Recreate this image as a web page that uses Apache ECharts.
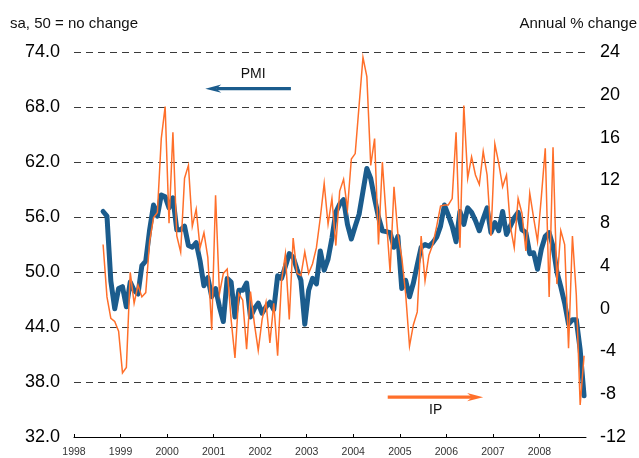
<!DOCTYPE html>
<html><head><meta charset="utf-8">
<script src="https://cdn.jsdelivr.net/npm/echarts@6/dist/echarts.min.js"></script>
<style>html,body{margin:0;padding:0;background:#fff}#c{width:639px;height:458px}</style>
</head><body><div id="c"></div>
<script>
// Monthly data, first month = Aug 1998, last = Dec 2008
const startYear = 1998;
const startMonth = 8;
const pmi = [
  56.6, 56.1, 49.0, 46.0, 48.2, 48.4, 46.2, 48.9, 48.0, 47.6,
  50.7, 51.2, 54.6, 57.3, 56.1, 58.4, 58.2, 57.0, 58.1, 54.6,
  54.6, 55.0, 52.9, 52.7, 53.2, 51.2, 48.5, 49.4, 47.3, 48.2,
  46.2, 44.6, 49.3, 48.9, 45.1, 48.0, 48.0, 48.8, 45.1, 46.0,
  46.6, 45.5, 46.2, 46.7, 45.9, 49.6, 49.3, 50.6, 52.0, 51.6,
  50.3, 49.1, 44.3, 48.0, 49.3, 48.7, 52.3, 50.2, 51.4, 53.7,
  56.5, 57.4, 57.9, 55.2, 53.6, 55.0, 56.3, 58.8, 61.3, 60.2,
  58.0, 56.0, 54.5, 54.4, 54.3, 52.7, 53.9, 48.2, 49.1, 47.3,
  48.8, 50.8, 52.7, 53.0, 52.8, 53.2, 53.8, 55.0, 57.3, 56.2,
  55.0, 53.3, 56.6, 55.2, 57.0, 56.5, 55.6, 54.5, 55.8, 57.0,
  54.3, 55.4, 54.5, 56.6, 54.1, 55.0, 55.9, 56.5, 54.6, 54.3,
  52.0, 52.1, 50.3, 52.5, 53.9, 54.3, 52.8, 50.0, 48.4, 46.6,
  44.3, 44.8, 44.8, 41.5, 36.5
];
const ip = [
  6.0, 1.1, -0.9, -1.2, -2.1, -6.0, -5.5, 3.4, 0.5, 2.2,
  1.1, 1.5, 6.3, 8.5, 9.0, 15.9, 18.9, 8.0, 16.5, 6.8,
  5.3, 12.2, 13.4, 7.7, 9.3, 5.7, 7.1, 4.8, -2.0, 10.6,
  1.4, 3.3, 3.7, -1.0, -4.6, 1.4, 0.8, -3.8, 1.6, -1.4,
  -3.9, -1.0, 0.6, -3.2, 0.5, -4.4, 2.6, 5.1, -1.0, 6.6,
  3.3, 3.1, 5.3, 3.3, 4.2, 5.7, 8.5, 11.7, 7.9, 10.3,
  5.9, 11.0, 12.1, 9.3, 14.0, 14.5, 19.0, 23.5, 21.7, 13.4,
  15.9, 6.0, 13.7, 8.5, 3.4, 11.4, 7.0, 4.8, 1.4, -3.5,
  -1.5, -0.3, 6.8, 2.6, 5.0, 6.0, 7.7, 9.6, 9.7, 9.7,
  10.3, 16.5, 5.7, 19.0, 12.2, 14.2, 12.5, 11.6, 14.7, 12.5,
  6.8, 15.4, 13.6, 11.4, 12.5, 7.7, 5.7, 10.3, 8.9, 5.4,
  10.8, 8.5, 6.3, 10.5, 15.0, 1.1, 15.1, 2.3, 7.3, 6.0,
  -3.7, 6.8, 1.3, -9.0, -4.4
];
const yearLabels = [1998, 1999, 2000, 2001, 2002, 2003, 2004, 2005, 2006, 2007, 2008];
const leftScale = { min: 32, max: 74, step: 6 };
const rightScale = { min: -12, max: 24, step: 4 };
const leftTitle = 'sa, 50 = no change';
const rightTitle = 'Annual % change';

const FONT = '"Liberation Sans", Arial, Helvetica, sans-serif';
const BLUE = '#1B5C8D';
const ORANGE = '#FF6F2A';
const toT = i => startYear + (startMonth - 1 + i + 0.5) / 12;

const chart = echarts.init(document.getElementById('c'), null, { renderer: 'canvas' });
chart.setOption({
  animation: false,
  textStyle: { fontFamily: FONT },
  grid: { left: 74, right: 53, top: 52, bottom: 16, containLabel: false },
  xAxis: {
    type: 'value', min: yearLabels[0], max: yearLabels[yearLabels.length - 1] + 1, interval: 1,
    axisLine: { show: true, onZero: false, lineStyle: { color: '#000', width: 1 } },
    axisTick: { show: true, inside: true, length: 3, lineStyle: { color: '#000' } },
    axisLabel: { fontSize: 10.5, color: '#333', margin: 10, fontFamily: FONT,
      showMaxLabel: false,
      formatter: v => yearLabels.indexOf(v) >= 0 ? String(v) : '' },
    splitLine: { show: false }
  },
  yAxis: [
    { type: 'value', position: 'left', min: leftScale.min, max: leftScale.max, interval: leftScale.step,
      axisLine: { show: false }, axisTick: { show: false },
      axisLabel: { fontSize: 18, color: '#000', margin: 14, fontFamily: FONT, formatter: v => v.toFixed(1) },
      splitLine: { show: true, lineStyle: { color: '#3a3a3a', width: 1, type: [7, 5] } } },
    { type: 'value', position: 'right', min: rightScale.min, max: rightScale.max, interval: rightScale.step,
      axisLine: { show: false }, axisTick: { show: false },
      axisLabel: { fontSize: 18, color: '#000', margin: 14, fontFamily: FONT, formatter: v => String(v) },
      splitLine: { show: false } }
  ],
  series: [
    { name: 'PMI', type: 'line', yAxisIndex: 0, showSymbol: false, symbol: 'none',
      lineStyle: { color: BLUE, width: 5, join: 'round', cap: 'round' },
      data: pmi.map((v, i) => [toT(i), v]), z: 2 },
    { name: 'IP', type: 'line', yAxisIndex: 1, showSymbol: false, symbol: 'none',
      lineStyle: { color: ORANGE, width: 1.5, join: 'miter' },
      data: ip.map((v, i) => [toT(i), v]), z: 3 }
  ]
});

// Annotations placed in data coordinates (left axis), converted by the chart's own scales
const annot = [
  { label: 'PMI', color: BLUE, from: [2002.66, 70.0], to: [2000.82, 70.0], text: [2001.85, 71.6] },
  { label: 'IP', color: ORANGE, from: [2004.74, 36.35], to: [2006.79, 36.35], text: [2005.77, 34.9] }
];
const px = p => chart.convertToPixel({ xAxisIndex: 0, yAxisIndex: 0 }, p);
const graphics = [
  { type: 'text', left: 10, top: 16, style: { text: leftTitle, fontSize: 15, fontFamily: FONT, fill: '#111' } },
  { type: 'text', right: 2, top: 16, style: { text: rightTitle, fontSize: 15, fontFamily: FONT, fill: '#111' } }
];
annot.forEach(a => {
  const p0 = px(a.from), p1 = px(a.to);
  const dx = p1[0] - p0[0], dy = p1[1] - p0[1];
  const len = Math.hypot(dx, dy), ux = dx / len, uy = dy / len, nx = -uy, ny = ux;
  const L = 16, W = 4.2, N = 5;
  const bx = p1[0] - ux * L, by = p1[1] - uy * L;
  graphics.push({ type: 'line', shape: { x1: p0[0], y1: p0[1], x2: bx + ux * N, y2: by + uy * N },
    style: { stroke: a.color, lineWidth: 3.2 } });
  graphics.push({ type: 'polygon', shape: { points: [
    [p1[0], p1[1]], [bx + nx * W, by + ny * W], [bx + ux * N, by + uy * N], [bx - nx * W, by - ny * W]
  ] }, style: { fill: a.color } });
  const t = px(a.text);
  graphics.push({ type: 'text', x: t[0], y: t[1], style: { text: a.label, fontSize: 14, fontFamily: FONT,
    fill: '#111', align: 'center', verticalAlign: 'middle' } });
});
chart.setOption({ graphic: graphics });
</script></body></html>
